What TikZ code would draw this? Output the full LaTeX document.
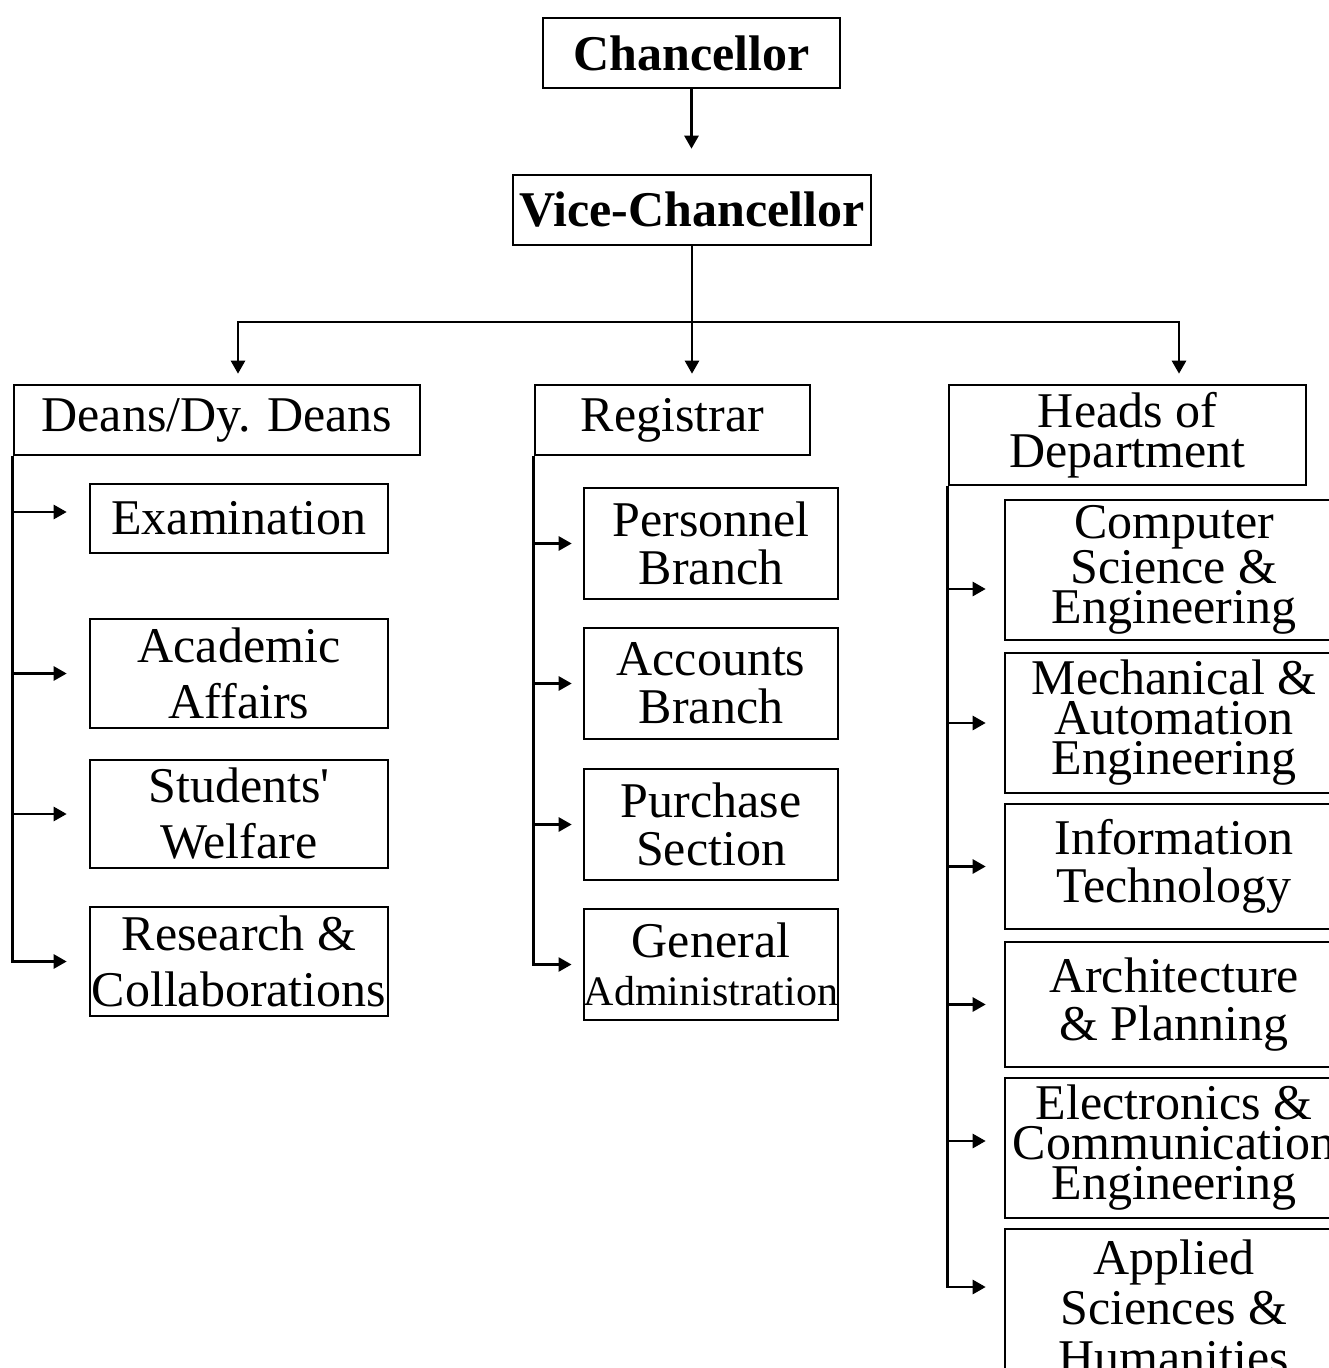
\documentclass[tikz,border=0pt]{standalone}
\usepackage{fontspec}
\setmainfont{Liberation Serif}
\usetikzlibrary{arrows.meta}

\begin{document}
\begin{tikzpicture}[x=1pt,y=1pt,yscale=-1,xscale=1,
  box/.style={draw, line width=2.6pt, inner sep=0pt, align=center, font=\fontsize{50}{56}\selectfont},
  midbox/.style={box, font=\fontsize{50}{48}\selectfont},
  tightbox/.style={box, font=\fontsize{50}{40}\selectfont},
  arr/.style={line width=2.6pt, -{Triangle[length=13pt,width=14pt]}}]
\useasboundingbox (0,0) rectangle (1329,1368);

%Shape: Rectangle [Chancellor]
\node[box, font=\fontsize{50}{56}\selectfont\bfseries, minimum width=297pt, minimum height=70pt] (chan) at (691.5,53) {Chancellor};
%Shape: Rectangle [Vice-Chancellor]
\node[box, font=\fontsize{50}{56}\selectfont\bfseries, minimum width=358pt, minimum height=70pt] (vc) at (692,210) {Vice-Chancellor};

%Shape: Rectangle [Deans]
\node[box, minimum width=406pt, minimum height=70pt] (deans) at (217,420) {Deans/Dy. Deans};
%Shape: Rectangle [Registrar]
\node[box, minimum width=275pt, minimum height=70pt] (reg) at (672.5,420) {Registrar};
%Shape: Rectangle [Heads]
\node[tightbox, minimum width=357pt, minimum height=100pt] (heads) at (1127.5,435) {Heads of\\Department};

% Deans column
\node[box, minimum width=298pt, minimum height=69pt] (exam) at (239,518.5) {Examination};
\node[box, minimum width=298pt, minimum height=109pt] (acad) at (239,673.5) {Academic\\Affairs};
\node[box, minimum width=298pt, minimum height=108pt] (stud) at (239,814) {Students\textquotesingle\\Welfare};
\node[box, minimum width=298pt, minimum height=109pt] (res) at (239,961.5) {Research \&\\Collaborations};

% Registrar column
\node[midbox, minimum width=254pt, minimum height=111pt] (pers) at (711,543.5) {Personnel\\Branch};
\node[midbox, minimum width=254pt, minimum height=111pt] (acct) at (711,683.5) {Accounts\\Branch};
\node[midbox, minimum width=254pt, minimum height=111pt] (purch) at (711,824.5) {Purchase\\Section};
\node[midbox, minimum width=254pt, minimum height=111pt] (gen) at (711,964.5) {General\\{\fontsize{42}{48}\selectfont Administration}};

% Heads column
\node[tightbox, minimum width=338pt, minimum height=140pt] (cse) at (1174,570) {Computer\\Science \&\\Engineering};
\node[tightbox, minimum width=338pt, minimum height=140pt] (mech) at (1174,723) {Mechanical \&\\Automation\\Engineering};
\node[midbox, minimum width=338pt, minimum height=125pt] (it) at (1174,866.5) {Information\\Technology};
\node[midbox, minimum width=338pt, minimum height=125pt] (arch) at (1174,1004.5) {Architecture\\\& Planning};
\node[tightbox, minimum width=338pt, minimum height=140pt] (ece) at (1174,1148) {Electronics \&\\Communication\\Engineering};
\node[box, font=\fontsize{50}{50}\selectfont, minimum width=338pt, minimum height=156pt] (appl) at (1174,1307) {Applied\\Sciences \&\\Humanities};

% top connectors
\coordinate (split) at (692,322);
\draw[arr, shorten >=25pt] (chan.south) -- (chan.south |- vc.north);
\draw[arr, shorten >=10pt] (vc.south) -- (vc.south |- reg.north);
\draw[arr, shorten >=10pt] (vc.south |- split) -| ([xshift=21pt]deans.north);
\draw[arr, shorten >=10pt] (vc.south |- split) -| ([xshift=51.5pt]heads.north);

% left branches
\draw[arr, shorten >=22pt] (deans.south west) |- ([yshift=-6.5pt]exam.west);
\draw[arr, shorten >=22pt] (deans.south west) |- (acad.west);
\draw[arr, shorten >=22pt] (deans.south west) |- (stud.west);
\draw[arr, shorten >=22pt] (deans.south west) |- (res.west);

% middle branches
\draw[arr, shorten >=11pt] (reg.south west) |- (pers.west);
\draw[arr, shorten >=11pt] (reg.south west) |- (acct.west);
\draw[arr, shorten >=11pt] (reg.south west) |- (purch.west);
\draw[arr, shorten >=11pt] (reg.south west) |- (gen.west);

% right branches
\draw[arr, shorten >=18pt] (heads.south west) |- ([yshift=19pt]cse.west);
\draw[arr, shorten >=18pt] (heads.south west) |- (mech.west);
\draw[arr, shorten >=18pt] (heads.south west) |- (it.west);
\draw[arr, shorten >=18pt] (heads.south west) |- (arch.west);
\draw[arr, shorten >=18pt] (heads.south west) |- ([yshift=-7pt]ece.west);
\draw[arr, shorten >=18pt] (heads.south west) |- ([yshift=-20pt]appl.west);

\end{tikzpicture}
\end{document}
